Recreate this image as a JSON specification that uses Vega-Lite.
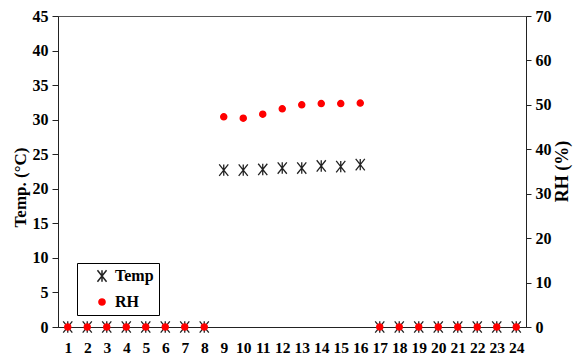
{
  "$schema": "https://vega.github.io/schema/vega-lite/v6.json",
  "width": 468,
  "height": 311,
  "autosize": {"type": "none"},
  "padding": {"left": 58, "top": 16, "right": 53, "bottom": 33},
  "background": "white",
  "config": {
    "view": {"stroke": "#555555", "strokeWidth": 1},
    "font": "Liberation Serif",
    "axis": {
      "grid": false,
      "domainColor": "#222222",
      "domainWidth": 1,
      "tickColor": "#222222",
      "labelColor": "black",
      "titleColor": "black"
    }
  },
  "data": {
    "values": [
      {"hour": 1, "series": "Temp", "value": 0},
      {"hour": 2, "series": "Temp", "value": 0},
      {"hour": 3, "series": "Temp", "value": 0},
      {"hour": 4, "series": "Temp", "value": 0},
      {"hour": 5, "series": "Temp", "value": 0},
      {"hour": 6, "series": "Temp", "value": 0},
      {"hour": 7, "series": "Temp", "value": 0},
      {"hour": 8, "series": "Temp", "value": 0},
      {"hour": 9, "series": "Temp", "value": 22.7},
      {"hour": 10, "series": "Temp", "value": 22.7},
      {"hour": 11, "series": "Temp", "value": 22.8},
      {"hour": 12, "series": "Temp", "value": 23.0},
      {"hour": 13, "series": "Temp", "value": 23.0},
      {"hour": 14, "series": "Temp", "value": 23.3},
      {"hour": 15, "series": "Temp", "value": 23.2},
      {"hour": 16, "series": "Temp", "value": 23.5},
      {"hour": 17, "series": "Temp", "value": 0},
      {"hour": 18, "series": "Temp", "value": 0},
      {"hour": 19, "series": "Temp", "value": 0},
      {"hour": 20, "series": "Temp", "value": 0},
      {"hour": 21, "series": "Temp", "value": 0},
      {"hour": 22, "series": "Temp", "value": 0},
      {"hour": 23, "series": "Temp", "value": 0},
      {"hour": 24, "series": "Temp", "value": 0},
      {"hour": 1, "series": "RH", "value": 0},
      {"hour": 2, "series": "RH", "value": 0},
      {"hour": 3, "series": "RH", "value": 0},
      {"hour": 4, "series": "RH", "value": 0},
      {"hour": 5, "series": "RH", "value": 0},
      {"hour": 6, "series": "RH", "value": 0},
      {"hour": 7, "series": "RH", "value": 0},
      {"hour": 8, "series": "RH", "value": 0},
      {"hour": 9, "series": "RH", "value": 47.3},
      {"hour": 10, "series": "RH", "value": 47.0},
      {"hour": 11, "series": "RH", "value": 47.9},
      {"hour": 12, "series": "RH", "value": 49.1},
      {"hour": 13, "series": "RH", "value": 50.0},
      {"hour": 14, "series": "RH", "value": 50.3},
      {"hour": 15, "series": "RH", "value": 50.3},
      {"hour": 16, "series": "RH", "value": 50.4},
      {"hour": 17, "series": "RH", "value": 0},
      {"hour": 18, "series": "RH", "value": 0},
      {"hour": 19, "series": "RH", "value": 0},
      {"hour": 20, "series": "RH", "value": 0},
      {"hour": 21, "series": "RH", "value": 0},
      {"hour": 22, "series": "RH", "value": 0},
      {"hour": 23, "series": "RH", "value": 0},
      {"hour": 24, "series": "RH", "value": 0}
    ]
  },
  "encoding": {
    "x": {
      "field": "hour",
      "type": "ordinal",
      "scale": {"type": "point", "padding": 0.5},
      "axis": {
        "title": null,
        "labelAngle": 0,
        "ticks": false,
        "labelPadding": 13,
        "labelFont": "Liberation Serif",
        "labelFontWeight": "bold",
        "labelFontSize": 15.5
      }
    }
  },
  "layer": [
    {
      "transform": [{"filter": "datum.series === 'Temp'"}],
      "mark": {"type": "point", "filled": true, "strokeWidth": 1.3, "opacity": 1},
      "encoding": {
        "y": {
          "field": "value",
          "type": "quantitative",
          "scale": {"domain": [0, 45], "nice": false, "zero": true},
          "axis": {
            "orient": "left",
            "values": [0, 5, 10, 15, 20, 25, 30, 35, 40, 45],
            "title": "Temp. (°C)",
            "tickSize": 6,
            "labelPadding": 4,
            "labelFont": "Liberation Serif",
            "labelFontWeight": "bold",
            "labelFontSize": 16,
            "titleFont": "Liberation Serif",
            "titleFontWeight": "bold",
            "titleFontSize": 17,
            "titleAngle": 270,
            "titleX": -33,
            "titleY": 171,
            "titleAlign": "center",
            "titleBaseline": "alphabetic"
          }
        },
        "fill": {
          "field": "series",
          "type": "nominal",
          "scale": {"domain": ["Temp", "RH"], "range": ["transparent", "#ff0000"]},
          "legend": {
            "title": null,
            "orient": "none",
            "legendX": 19,
            "legendY": 247,
            "direction": "vertical",
            "strokeColor": "black",
            "fillColor": "white",
            "padding": 5,
            "rowPadding": 9,
            "symbolOffset": 12,
            "labelOffset": 5,
            "labelFont": "Liberation Serif",
            "labelFontWeight": "bold",
            "labelFontSize": 16,
            "labelColor": "black"
          }
        },
        "stroke": {
          "field": "series",
          "type": "nominal",
          "scale": {"domain": ["Temp", "RH"], "range": ["#222222", "#ff0000"]},
          "legend": {"title": null}
        },
        "shape": {
          "field": "series",
          "type": "nominal",
          "scale": {"domain": ["Temp", "RH"], "range": ["M-0.8,-1L0.8,1M-0.8,1L0.8,-1M0,-1L0,1", "circle"]},
          "legend": {"title": null}
        },
        "size": {
          "field": "series",
          "type": "nominal",
          "scale": {"domain": ["Temp", "RH"], "range": [130, 38]},
          "legend": {"title": null}
        }
      }
    },
    {
      "transform": [{"filter": "datum.series === 'RH'"}],
      "mark": {"type": "point", "filled": true, "strokeWidth": 1.3, "opacity": 1},
      "encoding": {
        "y": {
          "field": "value",
          "type": "quantitative",
          "scale": {"domain": [0, 70], "nice": false, "zero": true},
          "axis": {
            "orient": "right",
            "values": [0, 10, 20, 30, 40, 50, 60, 70],
            "title": "RH (%)",
            "tickSize": 5,
            "labelPadding": 4,
            "labelFont": "Liberation Serif",
            "labelFontWeight": "bold",
            "labelFontSize": 16,
            "titleFont": "Liberation Serif",
            "titleFontWeight": "bold",
            "titleFontSize": 18,
            "titleAngle": 270,
            "titleX": 41,
            "titleY": 155,
            "titleAlign": "center",
            "titleBaseline": "alphabetic"
          }
        },
        "fill": {"field": "series", "type": "nominal"},
        "stroke": {"field": "series", "type": "nominal"},
        "shape": {"field": "series", "type": "nominal"},
        "size": {"field": "series", "type": "nominal"}
      }
    }
  ],
  "resolve": {"scale": {"y": "independent"}}
}
